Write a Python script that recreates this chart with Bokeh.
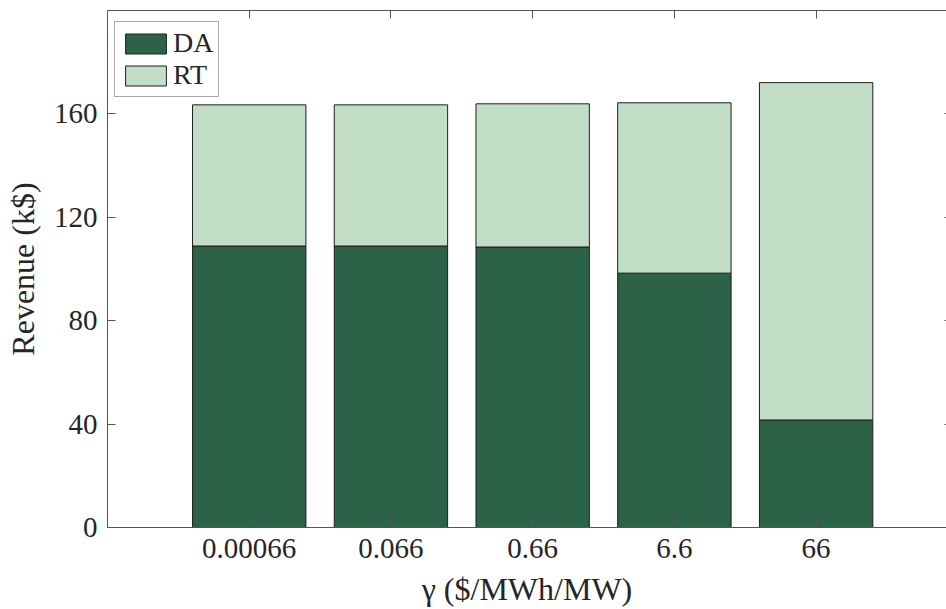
from bokeh.plotting import figure
from bokeh.models import Range1d, FixedTicker, LinearAxis, Legend, LegendItem
from bokeh.embed import file_html
from bokeh.resources import INLINE

# Revenue split per penalty coefficient gamma (k$)
gamma_labels = ["0.00066", "0.066", "0.66", "6.6", "66"]
da_revenue = [108.9, 108.9, 108.5, 98.4, 41.6]
rt_revenue = [54.6, 54.6, 55.4, 65.9, 130.5]
y_ticks = [0, 40, 80, 120, 160]

positions = list(range(1, len(gamma_labels) + 1))

FONT = "Liberation Serif"
TEXT = "#262626"
AXIS = "#555555"
DA_COLOR = "#2b6248"
RT_COLOR = "#c3dec7"

p = figure(
    width=946, height=609,
    output_backend="svg", toolbar_location=None,
    x_range=Range1d(0, 5.92), y_range=Range1d(0, 200),
    min_border_left=107, min_border_right=0,
    min_border_top=10, min_border_bottom=82,
)
p.outline_line_color = None
p.grid.visible = False
p.background_fill_color = "white"

src = dict(x=positions, DA=da_revenue, RT=rt_revenue)
bars = p.vbar_stack(
    ["DA", "RT"], x="x", width=0.8, source=src,
    fill_color=[DA_COLOR, RT_COLOR], line_color="#1e1e1e", line_width=1,
)

def style(ax, labels=True):
    ax.axis_line_color = AXIS
    ax.axis_line_width = 1
    ax.major_tick_line_color = AXIS
    ax.major_tick_in = 8
    ax.major_tick_out = 0
    ax.minor_tick_line_color = None
    ax.major_label_text_font = FONT
    ax.major_label_text_font_size = "29px"
    ax.major_label_text_color = TEXT
    ax.axis_label_text_font = FONT
    ax.axis_label_text_font_size = "32px"
    ax.axis_label_text_font_style = "normal"
    ax.axis_label_text_color = TEXT
    if not labels:
        ax.major_label_text_font_size = "1px"
        ax.major_label_standoff = 0
        ax.major_label_overrides = {t: "" for t in ax.ticker.ticks}

xa = p.xaxis[0]
xa.ticker = FixedTicker(ticks=positions)
xa.major_label_overrides = {pos: lab for pos, lab in zip(positions, gamma_labels)}
xa.axis_label = "γ ($/MWh/MW)"
style(xa)
xa.major_label_standoff = 11
xa.axis_label_standoff = 10

ya = p.yaxis[0]
ya.ticker = FixedTicker(ticks=y_ticks)
ya.axis_label = "Revenue (k$)"
style(ya)
ya.major_label_standoff = 10
ya.axis_label_standoff = 10

top = LinearAxis(ticker=FixedTicker(ticks=positions))
style(top, labels=False)
p.add_layout(top, "above")

right = LinearAxis(ticker=FixedTicker(ticks=y_ticks))
style(right, labels=False)
right.axis_line_color = None
right.major_tick_in = 2
p.add_layout(right, "right")

legend = Legend(
    items=[LegendItem(label="DA", renderers=[bars[0]]),
           LegendItem(label="RT", renderers=[bars[1]])],
    location=(7, 430),
    margin=0, padding=5, spacing=0,
    glyph_width=51, glyph_height=25, label_height=25,
    label_standoff=2,
    label_text_font=FONT, label_text_font_size="28px", label_text_color=TEXT,
    border_line_color=AXIS, border_line_width=1,
    background_fill_color="white", background_fill_alpha=1,
)
p.add_layout(legend)

open("out.html", "w").write(file_html(p, INLINE))
